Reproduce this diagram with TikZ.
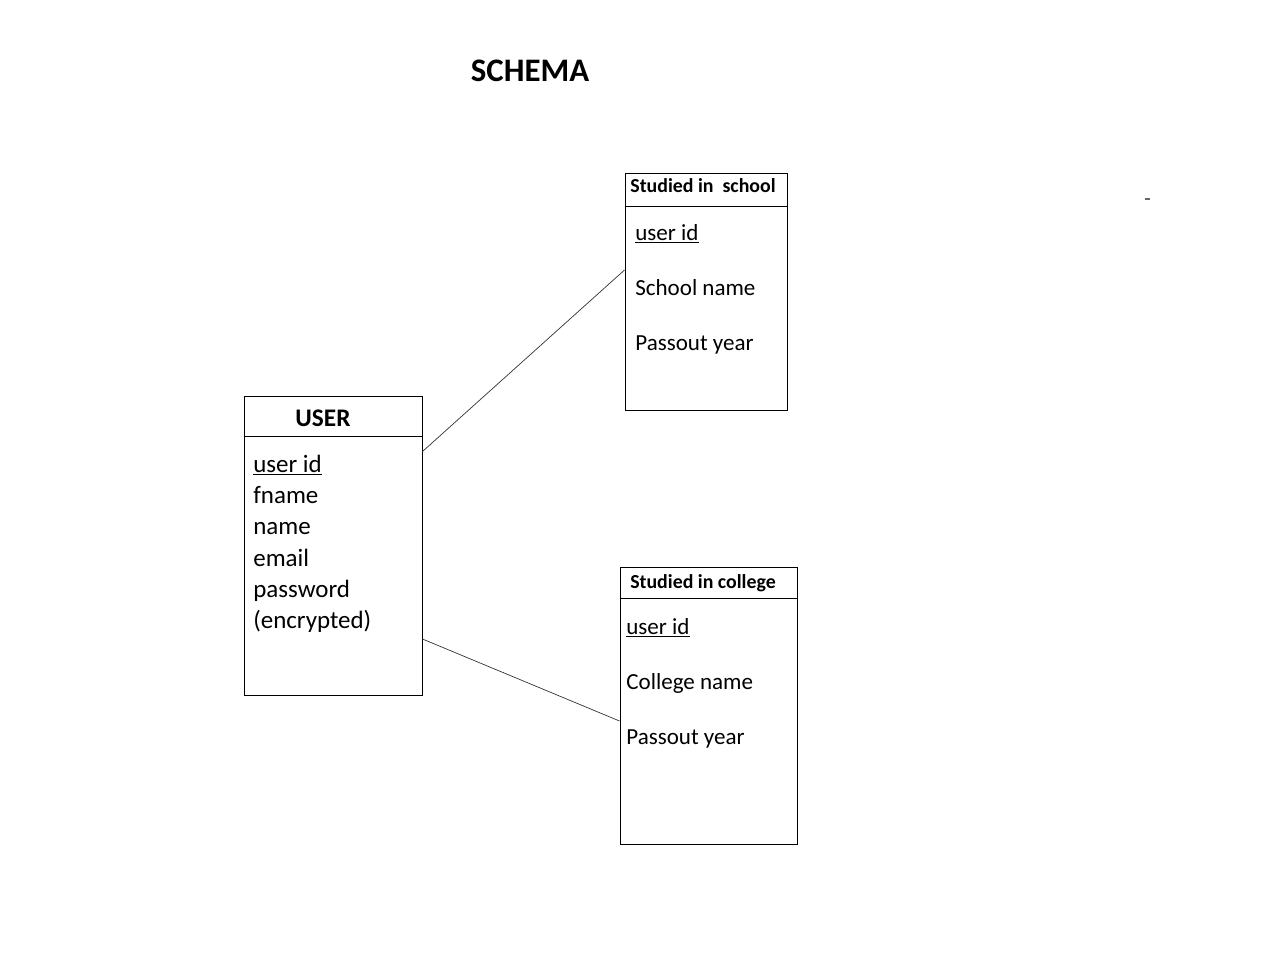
\documentclass[tikz,border=0pt]{standalone}
\usepackage{fontspec}
\setmainfont{Carlito}
\usepackage{tikz}

\begin{document}
\begin{tikzpicture}[
  tablebox/.style={draw, line width=0.55pt, rectangle, inner sep=0pt},
  attr/.style={anchor=base west, inner sep=0pt, font=\fontsize{13.1pt}{15pt}\selectfont},
  userattr/.style={anchor=base west, inner sep=0pt, font=\fontsize{14.2pt}{17pt}\selectfont},
  tabletitle/.style={inner sep=0pt, font=\bfseries\fontsize{11.3pt}{13pt}\selectfont},
  link/.style={line width=0.4pt, black!80}
]
\useasboundingbox (0,0) rectangle (25.6,-19.3);
\node[inner sep=0pt, font=\bfseries\fontsize{18.7pt}{21pt}\selectfont] (schema) at (10.6,-1.42) {SCHEMA};

\node[tablebox, minimum width=3.56cm, minimum height=5.98cm] (user) at (6.66,-10.91) {};
\draw[line width=0.55pt] ([yshift=-0.82cm]user.north west) -- ([yshift=-0.82cm]user.north east);
\node[inner sep=0pt, font=\bfseries\fontsize{14.4pt}{17pt}\selectfont] (usertitle) at (6.46,-8.36) {USER};
\node[userattr] (uid) at (5.06,-9.44) {\underline{user id}};
\node[userattr] (ufname) at (5.06,-10.06) {fname};
\node[userattr] (uname) at (5.06,-10.68) {name};
\node[userattr] (uemail) at (5.06,-11.32) {email};
\node[userattr] (upass) at (5.06,-11.94) {password};
\node[userattr] (uenc) at (5.06,-12.56) {(encrypted)};

\node[tablebox, minimum width=3.24cm, minimum height=4.74cm] (school) at (14.12,-5.83) {};
\draw[line width=0.55pt] ([yshift=-0.68cm]school.north west) -- ([yshift=-0.68cm]school.north east);
\node[tabletitle] (schooltitle) at (14.06,-3.72) {Studied in\ \ school};
\node[attr] (sid) at (12.70,-4.80) {\underline{user id}};
\node[attr] (sname) at (12.70,-5.90) {School name};
\node[attr] (syear) at (12.70,-7.00) {Passout year};

\node[tablebox, minimum width=3.54cm, minimum height=5.54cm] (college) at (14.17,-14.11) {};
\draw[line width=0.55pt] ([yshift=-0.64cm]college.north west) -- ([yshift=-0.64cm]college.north east);
\node[tabletitle] (collegetitle) at (14.06,-11.66) {Studied in college};
\node[attr] (cid) at (12.52,-12.68) {\underline{user id}};
\node[attr] (cname) at (12.52,-13.78) {College name};
\node[attr] (cyear) at (12.52,-14.88) {Passout year};

\draw[link] ([yshift=-1.12cm]user.north east) -- ([yshift=0.43cm]school.west);
\draw[link] ([yshift=-1.87cm]user.east) -- ([yshift=-0.31cm]college.west);

\coordinate (dasha) at (22.89,-3.98);
\coordinate (dashb) at (22.99,-3.98);
\draw[black!60, line width=0.8pt] (dasha) -- (dashb);
\end{tikzpicture}
\end{document}
